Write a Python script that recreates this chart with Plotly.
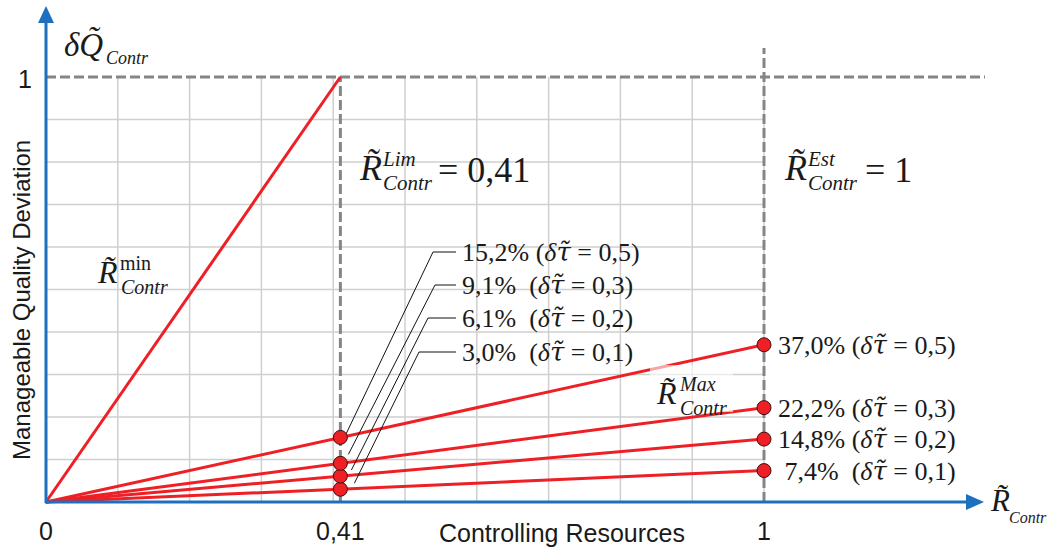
import plotly.graph_objects as go

# ---------------- data ----------------
tau_values = [0.1, 0.2, 0.3, 0.5]
share_at_lim = [3.0, 6.1, 9.1, 15.2]      # % at R_lim = 0.41
share_at_est = [7.4, 14.8, 22.2, 37.0]    # % at R_est = 1
r_lim = 0.41
r_est = 1.0
grid_ticks = [0.1, 0.2, 0.3, 0.4, 0.5, 0.6, 0.7, 0.8, 0.9, 1.0]
x_tick_labels = ["0", "0,41", "1"]
x_tick_values = [0.0, r_lim, r_est]

# ---------------- layout geometry ----------------
W, H = 1052, 549
X0PX, Y0PX = 46, 502        # pixel of the origin
XUNIT, YUNIT = 718, 425     # pixels per data unit

def dx(px):
    return (px - X0PX) / XUNIT

def dy(py):
    return (Y0PX - py) / YUNIT

def fx(px):
    return px / W

def fy(py):
    return 1 - py / H

SERIF = "Liberation Serif, Times New Roman, serif"
SANS = "Liberation Sans, Arial, sans-serif"
RED = "#ee1f25"
BLUE = "#1d70c0"
GRAY = "#858585"
GRID = "#cfcfcf"
TXT = "#1a1a1a"

def fmt(v, nd=1):
    return f"{v:.{nd}f}".replace(".", ",")

TAU = "<i>\u03b4</i><span style=\"font-family:DejaVu Serif\"><i>\u03c4\u0303</i></span>"

def pct_label(s, t):
    pad = "\u00a0" if s < 10 else ""
    return f"{fmt(s)}%{pad}\u00a0({TAU}\u00a0=\u00a0{fmt(t)})"

fig = go.Figure()

# grid
gx, gy = [], []
for t in grid_ticks:
    gx += [t, t, None]
    gy += [0, 1, None]
for t in grid_ticks[:-1]:
    gx += [0, 1, None]
    gy += [t, t, None]
fig.add_trace(go.Scatter(x=gx, y=gy, mode="lines", line=dict(color=GRID, width=1.5),
                         hoverinfo="skip", showlegend=False))

# dashed reference lines
dash_style = "10px,4px"
fig.add_trace(go.Scatter(x=[0, dx(985)], y=[1, 1], mode="lines",
                         line=dict(color=GRAY, width=3, dash=dash_style), hoverinfo="skip", showlegend=False))
fig.add_trace(go.Scatter(x=[r_lim, r_lim], y=[0, 1], mode="lines",
                         line=dict(color=GRAY, width=3, dash=dash_style), hoverinfo="skip", showlegend=False))
fig.add_trace(go.Scatter(x=[r_est, r_est], y=[0, dy(48)], mode="lines",
                         line=dict(color=GRAY, width=3, dash=dash_style), hoverinfo="skip", showlegend=False))

# red lines
fig.add_trace(go.Scatter(x=[0, r_lim], y=[0, 1], mode="lines", line=dict(color=RED, width=3),
                         hoverinfo="skip", showlegend=False))
for s in share_at_est:
    fig.add_trace(go.Scatter(x=[0, r_est], y=[0, s / 100], mode="lines", line=dict(color=RED, width=3),
                             hoverinfo="skip", showlegend=False))

# leader lines for labels at R_lim
label_rows_px = [352, 318, 285, 252]
elbow_px = [419, 428, 435, 433]
end_offsets_px = [(14, -6), (11, -6), (8, -9), (5, -2)]
lx, ly = [], []
for s, row, ex, (ox, oy) in zip(share_at_lim, label_rows_px, elbow_px, end_offsets_px):
    lx += [r_lim + ox / XUNIT, dx(ex), dx(456), None]
    ly += [s / 100 - oy / YUNIT, dy(row), dy(row), None]
fig.add_trace(go.Scatter(x=lx, y=ly, mode="lines", line=dict(color="#111111", width=1),
                         hoverinfo="skip", showlegend=False))

# markers
marker = dict(size=14, color=RED, line=dict(color="#3a1010", width=1))
fig.add_trace(go.Scatter(x=[r_lim] * len(share_at_lim), y=[s / 100 for s in share_at_lim],
                         mode="markers", marker=marker, hoverinfo="skip", showlegend=False))
fig.add_trace(go.Scatter(x=[r_est] * len(share_at_est), y=[s / 100 for s in share_at_est],
                         mode="markers", marker=marker, hoverinfo="skip", showlegend=False))

shapes = []
# axes (blue) with arrowheads
shapes.append(dict(type="line", xref="paper", yref="paper", x0=fx(X0PX), y0=fy(Y0PX + 1),
                   x1=fx(X0PX), y1=fy(22), line=dict(color=BLUE, width=3)))
shapes.append(dict(type="line", xref="paper", yref="paper", x0=fx(X0PX - 1), y0=fy(Y0PX),
                   x1=fx(968), y1=fy(Y0PX), line=dict(color=BLUE, width=3)))
shapes.append(dict(type="path", xref="paper", yref="paper",
                   path=f"M {fx(X0PX-8)},{fy(23)} L {fx(X0PX)},{fy(6)} L {fx(X0PX+8)},{fy(23)} Z",
                   fillcolor=BLUE, line=dict(width=0)))
shapes.append(dict(type="path", xref="paper", yref="paper",
                   path=f"M {fx(966)},{fy(Y0PX-8)} L {fx(984)},{fy(Y0PX)} L {fx(966)},{fy(Y0PX+8)} Z",
                   fillcolor=BLUE, line=dict(width=0)))
# semi-transparent box behind R_max label
shapes.append(dict(type="rect", xref="paper", yref="paper", x0=fx(650), x1=fx(733), y0=fy(412), y1=fy(365),
                   fillcolor="rgba(255,255,255,0.6)", line=dict(width=0), layer="above"))

ann = []

def txt(s, xp, yp, size, family=SERIF, xanchor="left", angle=0, color=TXT):
    ann.append(dict(text=s, x=fx(xp), y=fy(yp), xref="paper", yref="paper", xanchor=xanchor,
                    yanchor="middle", showarrow=False, textangle=angle,
                    font=dict(size=size, family=family, color=color)))

def rlabel(xp, yp, sup, sub, big=36, small=21, sup_italic=True):
    txt("<i>R\u0303</i>", xp, yp, big)
    sup_s = f"<i>{sup}</i>" if sup_italic else sup
    txt(sup_s, xp + 23, yp - 9, small)
    txt(f"<i>{sub}</i>", xp + 24, yp + 15, small)

# axis labels
txt("<i>\u03b4Q\u0303</i>", 62, 45, 33)
txt("<i>Contr</i>", 104, 58, 18)
txt("<i>R\u0303</i>", 988, 500, 31)
txt("<i>Contr</i>", 1007, 517, 16)

# tick labels
txt("1", 25, 79, 25, SANS, "center")
for v, lab in zip(x_tick_values, x_tick_labels):
    txt(lab, X0PX + v * XUNIT, 531, 25, SANS, "center")
txt("Controlling Resources", 562, 533, 25, SANS, "center")
txt("Manageable Quality Deviation", 21, 300, 24, SANS, "center", angle=-90)

# limit annotations
rlabel(357, 168, "Lim", "Contr")
txt("=\u00a00,41", 436, 170, 36)
rlabel(782, 168, "Est", "Contr")
txt("=\u00a01", 863, 170, 36)
rlabel(95, 272, "min", "Contr", big=32, small=20, sup_italic=False)
rlabel(654, 393, "Max", "Contr", big=32, small=20)

# percent labels at R_est (anchored to points)
for s, t in zip(share_at_est, tau_values):
    pad = "\u00a0" if s < 10 else ""
    ann.append(dict(text=pad + pct_label(s, t), x=r_est, y=s / 100, xref="x", yref="y",
                    xanchor="left", yanchor="middle", xshift=12, showarrow=False,
                    font=dict(size=26, family=SERIF, color=TXT)))

# percent labels at R_lim (with leader lines)
for s, t, row in zip(share_at_lim, tau_values, label_rows_px):
    txt(pct_label(s, t), 460, row, 26)

fig.update_layout(
    width=W, height=H,
    margin=dict(l=0, r=0, t=0, b=0),
    paper_bgcolor="white", plot_bgcolor="white",
    xaxis=dict(range=[dx(0), dx(W)], visible=False, fixedrange=True),
    yaxis=dict(range=[dy(H), dy(0)], visible=False, fixedrange=True),
    shapes=shapes, annotations=ann, showlegend=False,
)

fig.write_html("out.html", config={"displayModeBar": False},
               post_script="document.body.style.margin='0';document.body.style.padding='0';document.body.style.overflow='hidden';")
